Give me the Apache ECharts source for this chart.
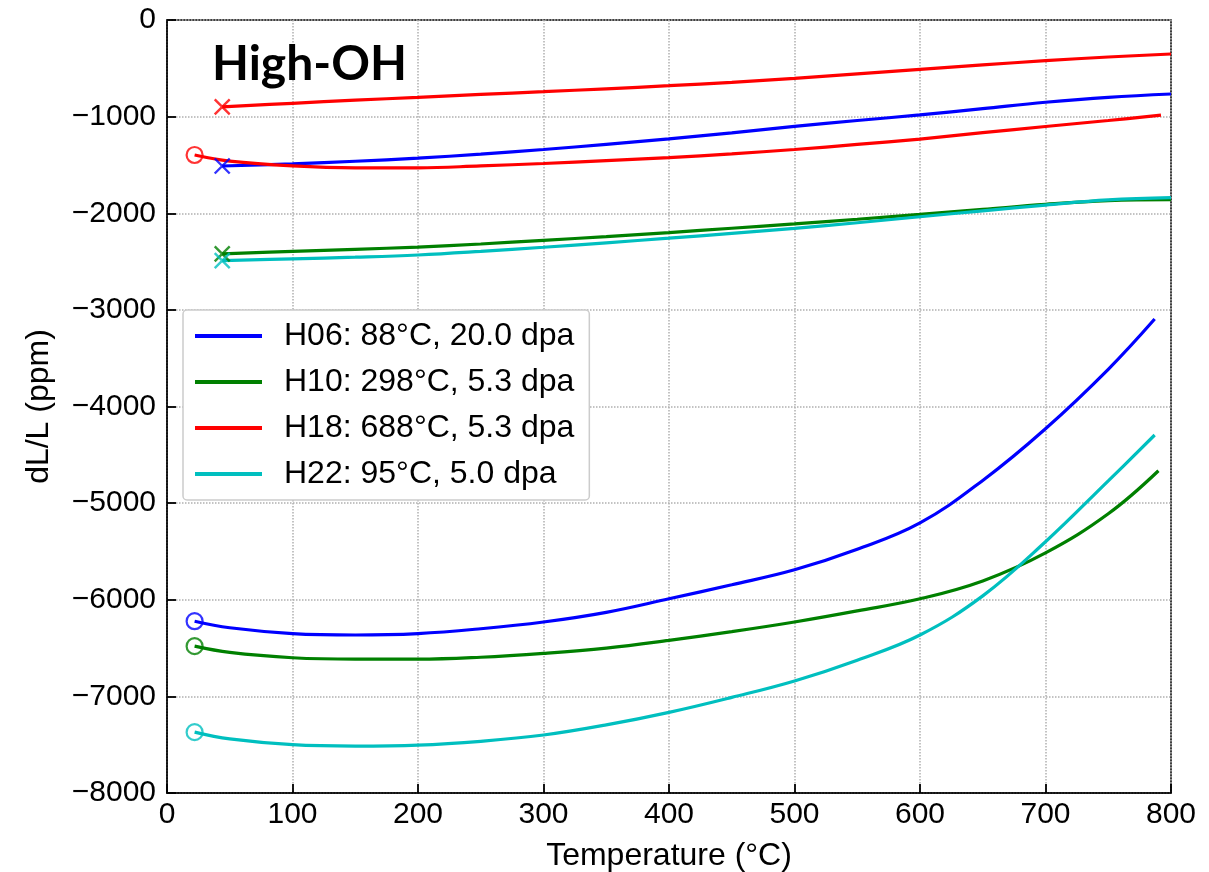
<!DOCTYPE html>
<html>
<head>
<meta charset="utf-8">
<title>High-OH dL/L</title>
<script src="https://cdn.jsdelivr.net/npm/echarts@6/dist/echarts.min.js"></script>
<style>
    html, body {margin: 0; padding: 0; background: #fff;}
    #chart {width: 1209px; height: 872px;}
</style>
</head>
<body>
<div id="chart"></div>
<script>
    // x tick labels / y tick labels
    var xTicks = [0, 100, 200, 300, 400, 500, 600, 700, 800];
    var yTicks = [-8000, -7000, -6000, -5000, -4000, -3000, -2000, -1000, 0];

    var names = ['H06: 88°C, 20.0 dpa', 'H10: 298°C, 5.3 dpa', 'H18: 688°C, 5.3 dpa', 'H22: 95°C, 5.0 dpa'];
    var colors = ['#0000ff', '#008000', '#ff0000', '#00bfbf'];

    // heating curves (start with open circle)
    var heatT_H06 = [22, 50, 100, 150, 200, 250, 300, 350, 400, 450, 500, 550, 600, 650, 700, 750, 787];
    var heat_H06 = [-6222, -6290, -6350, -6365, -6350, -6300, -6230, -6130, -5990, -5845, -5690, -5478, -5205, -4765, -4230, -3615, -3095];
    var heatT_H10 = [22, 50, 100, 150, 200, 250, 300, 350, 400, 450, 500, 550, 600, 650, 700, 750, 790];
    var heat_H10 = [-6480, -6545, -6600, -6615, -6615, -6595, -6555, -6500, -6420, -6330, -6230, -6115, -5990, -5805, -5515, -5110, -4665];
    var heatT_H18 = [22, 50, 100, 150, 200, 250, 300, 350, 400, 450, 500, 550, 600, 650, 700, 750, 792];
    var heat_H18 = [-1397, -1460, -1510, -1530, -1530, -1510, -1485, -1455, -1425, -1385, -1340, -1288, -1232, -1166, -1102, -1040, -985];
    var heatT_H22 = [22, 50, 100, 150, 200, 250, 300, 350, 400, 450, 500, 550, 600, 650, 700, 750, 787];
    var heat_H22 = [-7370, -7440, -7500, -7515, -7505, -7465, -7400, -7295, -7165, -7010, -6840, -6625, -6365, -5960, -5400, -4770, -4295];

    // cooling curves (start with x)
    var coolT = [44, 100, 150, 200, 250, 300, 350, 400, 450, 500, 550, 600, 650, 700, 750, 800];
    var cool_H06 = [-1511, -1490, -1462, -1430, -1388, -1340, -1287, -1230, -1168, -1100, -1040, -982, -917, -851, -800, -766];
    var cool_H10 = [-2420, -2395, -2373, -2350, -2318, -2280, -2242, -2200, -2155, -2110, -2062, -2012, -1960, -1908, -1870, -1860];
    var cool_H18 = [-900, -862, -830, -800, -770, -742, -712, -680, -645, -604, -558, -511, -465, -421, -383, -352];
    var cool_H22 = [-2490, -2472, -2455, -2432, -2395, -2352, -2306, -2258, -2208, -2157, -2098, -2036, -1975, -1915, -1862, -1839];

    var heatT = [heatT_H06, heatT_H10, heatT_H18, heatT_H22];
    var heat = [heat_H06, heat_H10, heat_H18, heat_H22];
    var cool = [cool_H06, cool_H10, cool_H18, cool_H22];

    var font = 'Liberation Sans, Arial, sans-serif';
    var crossPath = 'path://M0,0L10,10M10,0L0,10';

    function pairs(xs, ys) {
        var out = [];
        for (var i = 0; i < xs.length; i++) {
            out.push([xs[i], ys[i]]);
        }
        return out;
    }

    var series = [];
    for (var k = 0; k < 4; k++) {
        series.push({
            name: names[k], type: 'line', smooth: 0.4, showSymbol: false, symbol: 'none',
            data: pairs(heatT[k], heat[k]),
            lineStyle: {color: colors[k], width: 3.2}, itemStyle: {color: colors[k]}, z: 3
        });
        series.push({
            name: names[k], type: 'line', smooth: 0.4, showSymbol: false, symbol: 'none',
            data: pairs(coolT, cool[k]),
            lineStyle: {color: colors[k], width: 3.2}, itemStyle: {color: colors[k]}, z: 3
        });
        // start markers
        series.push({
            type: 'scatter', symbol: 'circle', symbolSize: 16, z: 4,
            data: [[heatT[k][0], heat[k][0]]],
            itemStyle: {color: 'rgba(0,0,0,0)', borderColor: colors[k], borderWidth: 2.2}
        });
        series.push({
            type: 'scatter', symbol: crossPath, symbolSize: 15, z: 4,
            data: [[coolT[0], cool[k][0]]],
            itemStyle: {color: 'rgba(0,0,0,0)', borderColor: colors[k], borderWidth: 2.4}
        });
    }

    var chart = echarts.init(document.getElementById('chart'));
    chart.setOption({
        animation: false,
        title: {
            text: 'High-OH', left: 207, top: 36,
            textStyle: {fontFamily: 'Lato, Noto Sans, sans-serif', fontWeight: 'bold', fontSize: 48, color: '#000'}
        },
        grid: {
            left: 167, top: 20, right: 38, bottom: 79, outerBoundsMode: 'none', containLabel: false,
            show: true, borderColor: '#000', borderWidth: 1.5
        },
        legend: {
            data: names, orient: 'vertical', left: 183, top: 310,
            icon: 'rect', itemWidth: 67, itemHeight: 4, itemGap: 4,
            padding: [5, 15, 5, 12],
            borderColor: '#cccccc', borderWidth: 1.5, borderRadius: 4, backgroundColor: '#fff',
            textStyle: {fontFamily: font, fontSize: 32, color: '#000', lineHeight: 42, padding: [0, 0, 0, 17]}
        },
        xAxis: {
            type: 'value', min: xTicks[0], max: xTicks[xTicks.length - 1], interval: 100,
            name: 'Temperature (°C)', nameLocation: 'middle', nameGap: 47,
            nameTextStyle: {fontFamily: font, fontSize: 32, color: '#000'},
            axisLine: {onZero: false, lineStyle: {color: '#000', width: 1.5}},
            axisTick: {inside: true, length: 9, lineStyle: {color: '#000', width: 1.8}},
            axisLabel: {fontFamily: font, fontSize: 30, color: '#000', margin: 7},
            splitLine: {show: true, lineStyle: {color: '#b0b0b0', type: 'dotted', width: 1.5}}
        },
        yAxis: {
            type: 'value', min: yTicks[0], max: yTicks[yTicks.length - 1], interval: 1000,
            name: 'dL/L (ppm)', nameLocation: 'middle', nameGap: 112,
            nameTextStyle: {fontFamily: font, fontSize: 32, color: '#000'},
            axisLine: {show: true, onZero: false, lineStyle: {color: '#000', width: 1.5}},
            axisTick: {show: true, inside: true, length: 9, lineStyle: {color: '#000', width: 1.8}},
            axisLabel: {
                fontFamily: font, fontSize: 30, color: '#000', margin: 11,
                formatter: function (v) { return String(v).replace('-', '\u2212'); }
            },
            splitLine: {show: true, lineStyle: {color: '#b0b0b0', type: 'dotted', width: 1.5}}
        },
        series: series
    });
</script>
</body>
</html>
